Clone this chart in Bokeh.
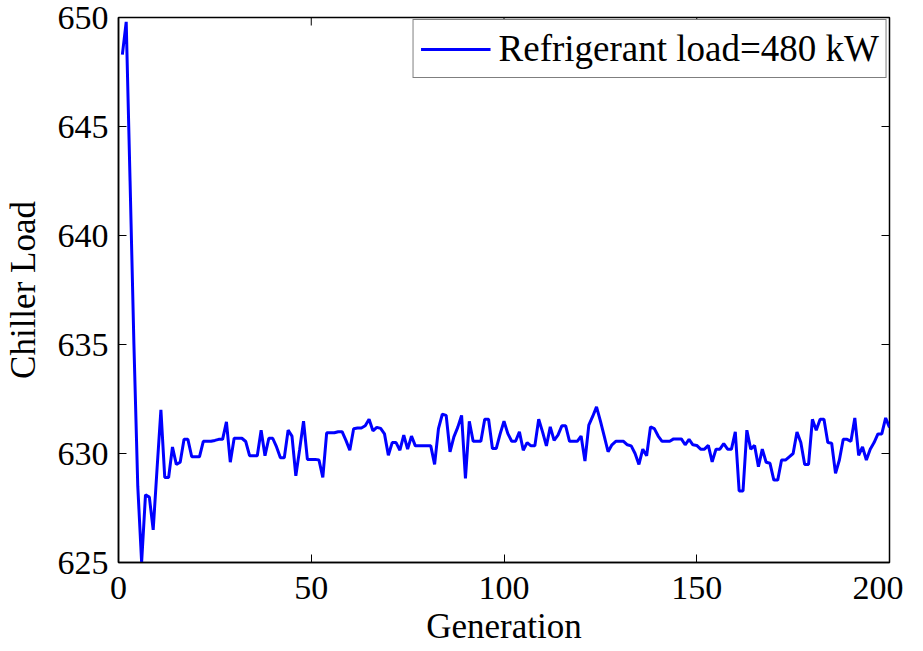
from bokeh.plotting import figure
from bokeh.models import Range1d, FixedTicker, Legend, LegendItem
from bokeh.embed import file_html
from bokeh.resources import INLINE

generation = list(range(1, 201))
chiller_load = [
    648.3, 649.8, 642.5, 635.0, 628.5, 625.0, 628.1, 628.0, 626.5, 629.3,
    632.0, 628.9, 628.9, 630.3, 629.5, 629.6, 630.65, 630.65, 629.85, 629.85,
    629.85, 630.56, 630.56, 630.56, 630.6, 630.65, 630.65, 631.45, 629.6, 630.7,
    630.7, 630.7, 630.55, 629.9, 629.9, 629.9, 631.07, 629.9, 630.7, 630.7,
    630.3, 629.8, 629.8, 631.07, 630.8, 628.98, 630.2, 631.48, 629.73, 629.73,
    629.73, 629.7, 628.9, 630.95, 630.95, 630.95, 631.0, 631.0, 630.6, 630.15,
    631.14, 631.17, 631.17, 631.27, 631.57, 631.04, 631.2, 631.15, 630.9, 629.92,
    630.5, 630.5, 630.15, 630.84, 630.2, 630.8, 630.35, 630.35, 630.35, 630.35,
    630.35, 629.5, 631.14, 631.8, 631.75, 630.08, 630.76, 631.2, 631.75, 628.86,
    631.48, 630.56, 630.56, 630.56, 631.57, 631.57, 630.23, 630.23, 630.9, 631.48,
    630.91, 630.56, 630.56, 630.99, 630.15, 630.5, 630.35, 630.35, 631.57, 630.99,
    630.35, 631.22, 630.6, 630.84, 631.27, 631.27, 630.56, 630.56, 630.56, 630.8,
    629.65, 631.3, 631.7, 632.14, 631.5, 630.8, 630.08, 630.4, 630.56, 630.56,
    630.56, 630.4, 630.35, 630.0, 629.5, 630.2, 629.9, 631.22, 631.14, 630.8,
    630.56, 630.56, 630.56, 630.67, 630.67, 630.67, 630.4, 630.65, 630.4, 630.37,
    630.2, 630.2, 630.37, 629.62, 630.2, 630.2, 630.45, 630.2, 630.2, 630.99,
    628.28, 628.28, 631.07, 630.2, 630.37, 629.39, 630.2, 629.6, 629.55, 628.78,
    628.78, 629.7, 629.7, 629.85, 630.0, 630.99, 630.5, 629.5, 629.5, 631.57,
    631.07, 631.57, 631.57, 630.5, 630.47, 629.09, 629.7, 630.65, 630.65, 630.56,
    631.63, 629.92, 630.3, 629.7, 630.2, 630.5, 630.9, 630.9, 631.63, 631.2,
]
x_ticks = [0, 50, 100, 150, 200]
y_ticks = [625, 630, 635, 640, 645, 650]
x_min, x_max = 0, 200
y_min, y_max = 625, 650
series_label = "Refrigerant load=480 kW"
x_label = "Generation"
y_label = "Chiller Load"

FONT = "Liberation Serif"

p = figure(
    frame_width=771, frame_height=545,
    output_backend="svg", toolbar_location=None,
    x_range=Range1d(x_min, x_max), y_range=Range1d(y_min, y_max),
    min_border_left=110, min_border_top=17, min_border_right=14, min_border_bottom=10,
)
p.background_fill_color = "white"
p.border_fill_color = "white"
p.xgrid.visible = False
p.ygrid.visible = False
p.outline_line_color = "black"
p.outline_line_width = 1.5

r = p.line(generation, chiller_load, line_color="#0000FF", line_width=3)

# inward ticks on the top and right edges of the box (clipped to the frame)
p.scatter(x=x_ticks, y=[y_max] * len(x_ticks), marker="dash", angle=1.5707963,
          size=16, line_color="black", line_width=1)
p.scatter(x=[x_max] * len(y_ticks), y=y_ticks, marker="dash",
          size=16, line_color="black", line_width=1)

for ax in (p.xaxis[0], p.yaxis[0]):
    ax.axis_line_color = "black"
    ax.axis_line_width = 1.5
    ax.major_tick_line_color = "black"
    ax.major_tick_in = 8
    ax.major_tick_out = 0
    ax.minor_tick_line_color = None
    ax.major_label_text_font = FONT
    ax.major_label_text_font_size = "34px"
    ax.major_label_text_color = "black"
    ax.axis_label_text_font = FONT
    ax.axis_label_text_font_size = "35px"
    ax.axis_label_text_font_style = "normal"
    ax.axis_label_text_color = "black"

p.xaxis.ticker = FixedTicker(ticks=x_ticks)
p.yaxis.ticker = FixedTicker(ticks=y_ticks)
p.xaxis.major_label_standoff = 14
p.yaxis.major_label_standoff = 10
p.xaxis.axis_label = x_label
p.yaxis.axis_label = y_label
p.xaxis.axis_label_standoff = 5
p.yaxis.axis_label_standoff = 12

legend = Legend(items=[LegendItem(label=series_label, renderers=[r])],
                location="top_right")
legend.label_text_font = FONT
legend.label_text_font_size = "37px"
legend.label_text_color = "black"
legend.border_line_color = "black"
legend.border_line_width = 1
legend.background_fill_color = "white"
legend.background_fill_alpha = 1
legend.glyph_width = 70
legend.glyph_height = 30
legend.label_standoff = 8
legend.padding = 7
legend.margin = 2
legend.spacing = 0
p.add_layout(legend)

open("out.html", "w").write(file_html(p, INLINE))
